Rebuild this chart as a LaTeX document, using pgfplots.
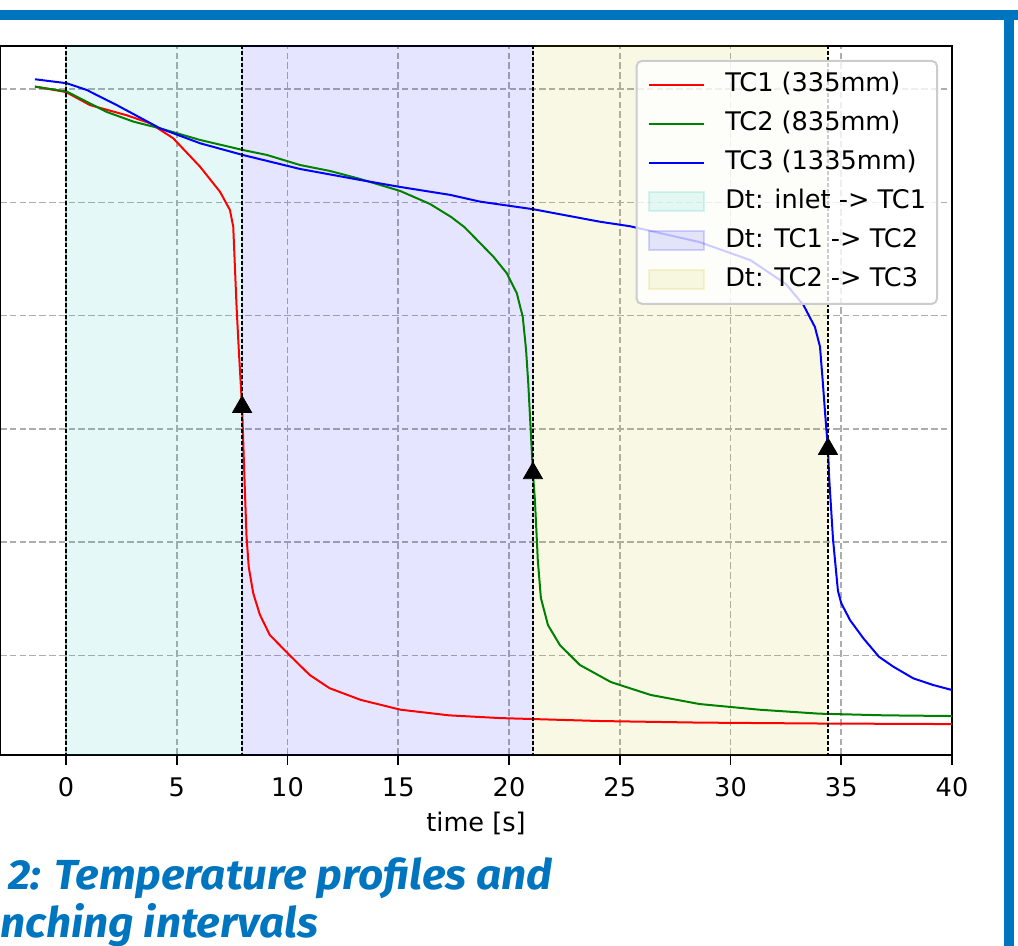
\documentclass[border=0pt]{standalone}
\usepackage{fontspec}
\setmainfont{DejaVu Sans}
\newfontfamily\capfont{Fira Sans}
\usepackage{pgfplots}
\pgfplotsset{compat=1.18}
\definecolor{pagebar}{RGB}{0,117,191}
\definecolor{mplc}{rgb}{0,0.75,0.75}
\definecolor{mply}{rgb}{0.75,0.75,0}
\definecolor{mplg}{rgb}{0,0.5,0}
\definecolor{legedge}{RGB}{204,204,204}
\pgfplotsset{
  lineleg/.style={legend image code/.code={\draw[##1, sharp corners] (0pt,0pt) -- (27.5pt,0pt);}},
  boxleg/.style={legend image code/.code={\draw[##1, sharp corners] (0pt,-4.75pt) rectangle (27.5pt,4.75pt);}},
}

\begin{document}
\begin{tikzpicture}
\useasboundingbox (0,0) rectangle (509pt,473pt);
\clip (0,0) rectangle (509pt,473pt);
% page decoration
\fill[pagebar] (0pt,463pt) rectangle (509pt,468pt);
\fill[pagebar] (502pt,0pt) rectangle (507pt,468pt);
\node[anchor=base west, inner sep=0pt, text=pagebar, xscale=1.05, font=\capfont\bfseries\itshape\fontsize{21}{25}\selectfont]
  at (4pt,28pt) {2: Temperature profiles and};
\node[anchor=base west, inner sep=0pt, text=pagebar, xscale=1.05, font=\capfont\bfseries\itshape\fontsize{21}{25}\selectfont]
  at (0pt,4pt) {nching intervals};

\begin{axis}[
  at={(0pt,95.5pt)}, anchor=south west,
  width=476pt, height=354.5pt, scale only axis,
  xmin=-2.98, xmax=40, ymin=12, ymax=638.2,
  xtick={0,5,...,40}, ytick={100,200,...,600},
  yticklabels={},
  xtick pos=bottom, ytick pos=left, tick align=outside,
  major tick length=5pt,
  every tick/.style={black, line width=0.8pt},
  axis line style={line width=0.8pt},
  grid=major,
  grid style={black!32, line width=0.8pt, dash pattern=on 3.3pt off 1.6pt},
  font=\fontsize{12.8}{15.4}\selectfont,
  /pgf/number format/assume math mode=true,
  xticklabel style={anchor=base, inner sep=0pt, yshift=-15.85pt},
  xlabel={time [s]},
  x label style={at={(axis description cs:0.5,0)}, anchor=base, inner sep=0pt, yshift=-38.5pt},
  legend style={at={(1,1)}, anchor=north east, xshift=-7pt, yshift=-7pt,
    draw=legedge, line width=1pt, rounded corners=2.5pt,
    fill=white, fill opacity=0.8, draw opacity=1, text opacity=1,
    inner xsep=5.5pt, inner ysep=5.8pt, row sep=7.2pt, column sep=10.3pt,
    nodes={inner sep=0pt, text height=9.5pt, text depth=2.8pt},
    font=\fontsize{12.8}{15.4}\selectfont},
  legend cell align=left,
]
% shaded intervals
\addplot[draw=mplc, draw opacity=0.1, fill=mplc, fill opacity=0.1, forget plot]
  coordinates {(0,700) (7.95,700)} \closedcycle;
\addplot[draw=blue, draw opacity=0.1, fill=blue, fill opacity=0.1, forget plot]
  coordinates {(7.95,700) (21.08,700)} \closedcycle;
\addplot[draw=mply, draw opacity=0.1, fill=mply, fill opacity=0.1, forget plot]
  coordinates {(21.08,700) (34.4,700)} \closedcycle;

% TC1
\addplot[red, line width=1pt, lineleg]
  coordinates {
  (-1.4,602.3) (0.0,597.5) (1.08,586) (2.74,577) (3.79,570) (4.84,556.7)
  (6.05,531.6) (6.95,509.5) (7.4,493.4) (7.55,478.6) (7.70,408) (7.80,370)
  (7.95,319) (8.05,260) (8.15,205) (8.25,178) (8.45,155) (8.75,136) (9.2,118)
  (10.1,100) (11.0,82.7) (11.9,71) (13.3,60.7) (15.1,52) (17.3,47) (19.6,44.6)
  (24.1,42) (28.6,40.6) (34,39.8) (40,39.3)};
\addlegendentry{TC1 (335mm)}
% TC2
\addplot[mplg, line width=1pt, lineleg]
  coordinates {
  (-1.4,602.3) (0.03,598) (0.93,589) (1.83,580) (3.04,571.4) (4.24,565.5)
  (6.05,555.2) (7.97,546.4) (9.06,542) (10.56,533.1) (11.92,527.8)
  (13.27,520.8) (15.08,510.2) (16.43,498.7) (17.4,487) (18.0,478)
  (18.69,464.2) (19.3,452) (19.9,437.5) (20.35,420) (20.62,399) (20.77,370)
  (20.87,340) (20.98,299) (21.08,261) (21.17,237) (21.3,184) (21.44,150.6)
  (21.76,126.7) (22.3,109) (23.2,91.5) (24.6,76.4) (26.4,65) (28.6,57)
  (31.3,52) (34,48.5) (37,47) (40,46.4)};
\addlegendentry{TC2 (835mm)}
% TC3
\addplot[blue, line width=1pt, lineleg]
  coordinates {
  (-1.4,608.8) (0.03,605.3) (0.93,599.4) (2.29,586) (4.24,565.5) (6.05,552.3)
  (7.97,542) (10.56,529.6) (13.27,519.9) (15.08,513.7) (17.34,506.7)
  (18.7,500.7) (21.1,494) (24.1,483) (25.46,479) (28.6,465) (30.9,449)
  (32.5,428) (33.29,409.5) (33.81,390) (34.04,372.6) (34.16,343) (34.27,314)
  (34.40,282) (34.46,255) (34.63,202) (34.85,157) (35.0,146) (35.4,131)
  (36.0,115) (36.7,98.8) (37.35,90) (38.25,79.7) (39.15,73.8) (40,69.4)};
\addlegendentry{TC3 (1335mm)}

% interval boundaries
\addplot[black, line width=1pt, dash pattern=on 2pt off 1pt, forget plot] coordinates {(0,0) (0,700)};
\addplot[black, line width=1pt, dash pattern=on 2pt off 1pt, forget plot] coordinates {(7.95,0) (7.95,700)};
\addplot[black, line width=1pt, dash pattern=on 2pt off 1pt, forget plot] coordinates {(21.08,0) (21.08,700)};
\addplot[black, line width=1pt, dash pattern=on 2pt off 1pt, forget plot] coordinates {(34.4,0) (34.4,700)};

% arrival markers
\addplot[only marks, mark=triangle*, mark size=5.5pt, black, forget plot]
  coordinates {(7.95,319.4) (21.08,260.9) (34.4,282.3)};

% legend entries for the shaded intervals
\addlegendimage{boxleg, draw=mplc, draw opacity=0.15, fill=mplc, fill opacity=0.1}
\addlegendentry{Dt: inlet -> TC1}
\addlegendimage{boxleg, draw=blue, draw opacity=0.15, fill=blue, fill opacity=0.1}
\addlegendentry{Dt: TC1 -> TC2}
\addlegendimage{boxleg, draw=mply, draw opacity=0.15, fill=mply, fill opacity=0.1}
\addlegendentry{Dt: TC2 -> TC3}
\end{axis}
\end{tikzpicture}
\end{document}
